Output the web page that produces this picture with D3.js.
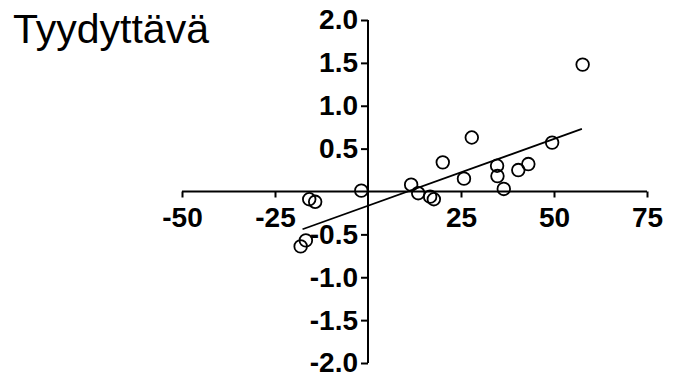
<!DOCTYPE html>
<html><head><meta charset="utf-8">
<script src="https://cdn.jsdelivr.net/npm/d3@7"></script>
<style>body{margin:0;background:#fff}svg{display:block}</style>
</head><body>
<svg id="chart" width="673" height="376"></svg>
<script>
const title = "Tyydyttävä";
const xValues = [57.7, 27.9, 20.1, 49.5, 25.8, 34.7, 34.8, 40.4, 43.1, 36.5, 11.6, 13.5, 16.7, 17.7, -1.8, -15.8, -14.2, -16.7, -18.1];
const yValues = [1.48, 0.63, 0.34, 0.57, 0.15, 0.30, 0.18, 0.25, 0.32, 0.03, 0.08, -0.02, -0.06, -0.09, 0.01, -0.09, -0.12, -0.57, -0.64];
const fitX = [-17.6, 57.5];
const fitY = [-0.44, 0.73];
const xTicks = [-50, -25, 0, 25, 50, 75];
const yTicks = [-2.0, -1.5, -1.0, -0.5, 0.5, 1.0, 1.5, 2.0];

const svg = d3.select("#chart");
const x = d3.scaleLinear().domain([-50, 75]).range([182, 647]);
const y = d3.scaleLinear().domain([-2, 2]).range([363, 20]);
const font = "Liberation Sans, Arial, sans-serif";
const hy = s => s.replace("\u2212", "-");

svg.append("text").attr("x", 13).attr("y", 43)
  .attr("font-family", font).attr("font-size", 41)
  .attr("fill", "#000").text(title);

// x axis at y=0
const xAxis = svg.append("g").attr("transform", `translate(0,${y(0)})`)
  .call(d3.axisBottom(x).tickValues(xTicks.filter(d => d !== 0)).tickSize(6).tickSizeOuter(0).tickPadding(10).tickFormat(d => hy(d3.format("d")(d))));
xAxis.select(".domain").attr("stroke-width", 2).attr("d", `M${x(-50)},0H${x(75)}`);
xAxis.selectAll(".tick line").attr("stroke-width", 2);
xAxis.selectAll(".tick text").attr("font-family", font).attr("font-size", 28).attr("font-weight", "bold").attr("fill", "#000");

// y axis at x=0
const yAxis = svg.append("g").attr("transform", `translate(${x(0)},0)`)
  .call(d3.axisLeft(y).tickValues(yTicks).tickSize(7).tickSizeOuter(0).tickPadding(3).tickFormat(d => hy(d3.format(".1f")(d))));
yAxis.select(".domain").attr("stroke-width", 2).attr("d", `M0,${y(2)}V${y(-2)}`);
yAxis.selectAll(".tick line").attr("stroke-width", 2);
yAxis.selectAll(".tick text").attr("font-family", font).attr("font-size", 28).attr("font-weight", "bold").attr("fill", "#000");

// fit line
svg.append("line")
  .attr("x1", x(fitX[0])).attr("y1", y(fitY[0]))
  .attr("x2", x(fitX[1])).attr("y2", y(fitY[1]))
  .attr("stroke", "#000").attr("stroke-width", 1.8);

// points
svg.append("g").selectAll("circle").data(xValues.map((v, i) => [v, yValues[i]]))
  .join("circle")
  .attr("cx", d => x(d[0])).attr("cy", d => y(d[1])).attr("r", 6.3)
  .attr("fill", "none").attr("stroke", "#000").attr("stroke-width", 1.8);
</script>
</body></html>
